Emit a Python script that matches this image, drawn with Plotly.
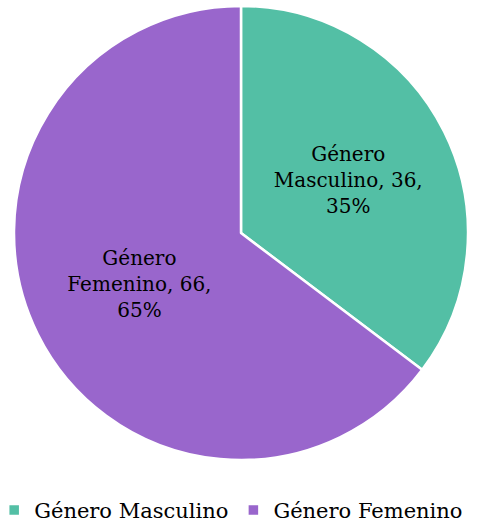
import plotly.graph_objects as go

labels = ["Género Masculino", "Género Femenino"]
short_labels = ["Masculino", "Femenino"]
values = [36, 66]
percents = ["35%", "65%"]
colors = ["#53BFA5", "#9966CC"]

texts = [f"Género<br>{s}, {v},<br>{p}" for s, v, p in zip(short_labels, values, percents)]

fig = go.Figure(go.Pie(
    labels=labels,
    values=values,
    text=texts,
    textinfo="text",
    textposition="inside",
    insidetextorientation="horizontal",
    sort=False,
    direction="clockwise",
    rotation=0,
    marker=dict(colors=colors, line=dict(color="white", width=2.5)),
    textfont=dict(family="DejaVu Serif", size=20, color="black"),
    hoverinfo="label+value+percent",
    domain=dict(x=[14/485, 468/485], y=[1-460/525, 1-6/525]),
))

fig.update_layout(
    width=485, height=525,
    margin=dict(l=0, r=0, t=0, b=0, autoexpand=False),
    paper_bgcolor="white",
    font=dict(family="DejaVu Serif", color="black"),
    uniformtext=dict(minsize=20, mode="show"),
    legend=dict(
        orientation="h", x=-0.012, xanchor="left", y=-0.011, yanchor="bottom",
        font=dict(size=21, family="DejaVu Serif"),
        itemwidth=30, traceorder="normal",
    ),
)

fig.write_html("out.html", config={"displayModeBar": False},
               post_script="document.body.style.margin='0';")
